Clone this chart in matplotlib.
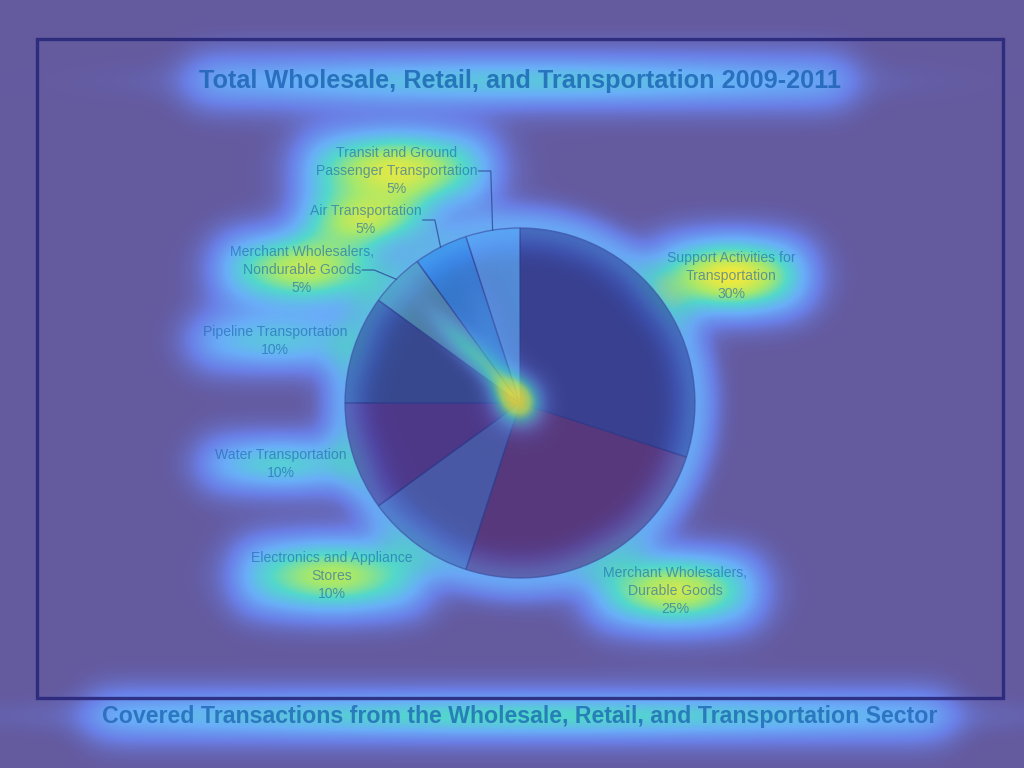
import numpy as np
import matplotlib
matplotlib.use("Agg")
from math import erf
from matplotlib import pyplot as plt
from matplotlib.colors import LinearSegmentedColormap
from matplotlib.patches import Rectangle

# chart data
categories = [
    "Support Activities for\nTransportation",
    "Merchant Wholesalers,\nDurable Goods",
    "Electronics and Appliance\nStores",
    "Water Transportation",
    "Pipeline Transportation",
    "Merchant Wholesalers,\nNondurable Goods",
    "Air Transportation",
    "Transit and Ground\nPassenger Transportation",
]
shares = [30, 25, 10, 10, 10, 5, 5, 5]
title = "Total Wholesale, Retail, and Transportation 2009-2011"
caption = "Covered Transactions from the Wholesale, Retail, and Transportation Sector"

# look
W, H = 1024, 768
BG = "#645a9e"
slice_colors = ["#203287", "#502569", "#3a58a8", "#41257d",
                "#1e3f87", "#3f9aae", "#1a8ce8", "#4aa8f6"]
slice_alpha = 0.64
# label centres in pixels (layout only)
label_pos = [(731, 276), (675, 591), (332, 576), (281, 464),
             (275, 341), (302, 270), (366, 220), (397, 171)]
connector = [False, False, False, False, False, True, True, True]
cx, cy, R = 520, 403, 175
TXT = "#1a62b0"
FONT = ["Liberation Sans", "DejaVu Sans"]

verf = np.vectorize(erf)
x = np.arange(W) + 0.5
y = np.arange(H) + 0.5
xx, yy = np.meshgrid(x, y)


def gauss(bx, by, sx, sy):
    return np.exp(-((xx - bx) ** 2 / (2 * sx ** 2) + (yy - by) ** 2 / (2 * sy ** 2)))


def streak(x0, y0, x1, y1, s_along, s_across):
    # gaussian stretched along the segment direction
    d = np.array([x1 - x0, y1 - y0], dtype=float)
    d /= np.hypot(*d)
    mx, my = (x0 + x1) / 2, (y0 + y1) / 2
    u = (xx - mx) * d[0] + (yy - my) * d[1]
    v = -(xx - mx) * d[1] + (yy - my) * d[0]
    return np.exp(-(u ** 2 / (2 * s_along ** 2) + v ** 2 / (2 * s_across ** 2)))


def text_heat():
    # saliency around texts: x0, x1, y0, y1, box strength, core strength
    boxes = [
        (190, 850, 62, 100, 0.36, 0.22),
        (90, 950, 700, 732, 0.45, 0.3),
        (305, 490, 136, 202, 0.4, 0.55),
        (300, 432, 198, 242, 0.34, 0.42),
        (220, 384, 238, 300, 0.38, 0.5),
        (194, 358, 318, 364, 0.34, 0.2),
        (204, 358, 442, 486, 0.34, 0.26),
        (240, 424, 544, 608, 0.4, 0.45),
        (594, 756, 559, 622, 0.4, 0.52),
        (656, 806, 244, 308, 0.42, 0.62),
    ]
    h = np.zeros((H, W))
    s = 26
    for x0, x1, y0, y1, a, c in boxes:
        fx = 0.5 * (verf((x - x0) / s) - verf((x - x1) / s))
        fyv = 0.5 * (verf((y - y0) / s) - verf((y - y1) / s))
        h += a * np.outer(fyv, fx)
        h += c * gauss((x0 + x1) / 2, (y0 + y1) / 2, (x1 - x0) * 0.28, (y1 - y0) * 0.38)
    r = np.hypot(xx - cx, yy - cy)
    h += 0.34 * np.exp(-(r - R) ** 2 / (2 * 16 ** 2))
    return np.clip(h, 0, 1)


def pie_heat():
    # glow inside the pie: centre, a streak along the thin slices, and the rim
    h = 0.7 * gauss(518, 401, 20, 20)
    h += 0.5 * streak(515, 398, 420, 300, 45, 11)
    h += 0.25 * streak(515, 398, 470, 270, 50, 14)
    r = np.hypot(xx - cx, yy - cy)
    h += 0.22 * np.exp(-(r - R) ** 2 / (2 * 13 ** 2))
    return np.clip(h, 0, 1)


heat_cmap = LinearSegmentedColormap.from_list(
    "glow", [(0, BG), (0.15, "#6a7fe6"), (0.35, "#69aef8"),
             (0.58, "#52d8cc"), (0.78, "#a6e86c"), (1, "#f2ea3c")])

fig = plt.figure(figsize=(10.24, 7.68), dpi=100, facecolor=BG)
ax = fig.add_axes([0, 0, 1, 1])
ax.set_facecolor(BG)

ax.imshow(text_heat(), cmap=heat_cmap, vmin=0, vmax=1, extent=(0, W, 0, H),
          origin="upper", zorder=0, interpolation="bilinear")

wedges, _ = ax.pie(shares, colors=slice_colors, startangle=90, counterclock=False,
                   radius=R, center=(cx, H - cy),
                   wedgeprops=dict(edgecolor="#2e3b8c", linewidth=1.0, alpha=slice_alpha))
for w in wedges:
    w.set_zorder(2)

ph = pie_heat()
rgba = heat_cmap(np.clip(ph * 1.1, 0, 1))
rgba[..., 3] = np.clip(ph * 1.1, 0, 0.8)
ax.imshow(rgba, extent=(0, W, 0, H), origin="upper", zorder=3, interpolation="bilinear")

ax.set_xlim(0, W)
ax.set_ylim(0, H)
ax.set_aspect("equal")
ax.axis("off")

text_kw = dict(fontsize=10.1, color=TXT, alpha=0.6, ha="center", va="center",
               linespacing=1.37, family=FONT, zorder=5)
renderer = fig.canvas.get_renderer()
inv = ax.transData.inverted()
for w, cat, pct, (lx, ly), conn in zip(wedges, categories, shares, label_pos, connector):
    ax.text(lx, H - ly, "%s\n%d%%" % (cat, pct), **text_kw)
    if conn:
        mid = np.deg2rad((w.theta1 + w.theta2) / 2)
        ex, ey = w.center[0] + R * np.cos(mid), w.center[1] + R * np.sin(mid)
        # connector leaves from the middle text line (the block is centred on it)
        sy = H - ly
        tmp = ax.text(lx, sy, cat.split("\n")[-1], **text_kw)
        lb = tmp.get_window_extent(renderer=renderer).transformed(inv)
        tmp.remove()
        sx = lb.x1 + 1
        ax.plot([sx, sx + 12, ex], [sy, sy, ey], color="#2e4a98", lw=0.9, alpha=0.8, zorder=4)

ax.add_patch(Rectangle((37, H - 698), 966, 659, fill=False,
                       edgecolor="#28277a", lw=2.4, alpha=0.9, zorder=6))
ax.text(520, H - 81, title, fontsize=18.2, fontweight="bold", color="#155cae", alpha=0.75,
        ha="center", va="center", family=FONT, zorder=5)
ax.text(520, H - 716, caption, fontsize=16.7, fontweight="bold", color="#155cae", alpha=0.7,
        ha="center", va="center", family=FONT, zorder=5)

fig.savefig("out.png", dpi=100, facecolor=BG)
